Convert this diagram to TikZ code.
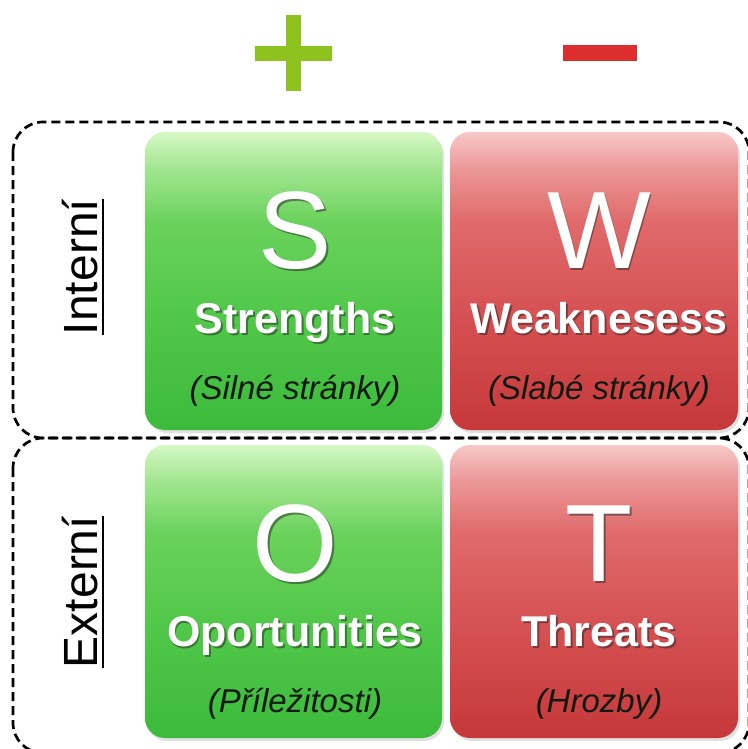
\documentclass[tikz,border=0pt]{standalone}
\usepackage{fontspec}
\setmainfont{Liberation Sans}

% colours
\definecolor{plusgreen}{HTML}{8DC21F}
\definecolor{minusred}{HTML}{DC2E2E}
\definecolor{gA}{HTML}{3CBA3C}
\definecolor{gB}{HTML}{52C84A}
\definecolor{gC}{HTML}{6AD25C}
\definecolor{gD}{HTML}{A2E690}
\definecolor{gE}{HTML}{D6F8C6}
\definecolor{rA}{HTML}{C6383A}
\definecolor{rB}{HTML}{D65254}
\definecolor{rC}{HTML}{E06A6A}
\definecolor{rD}{HTML}{EC9898}
\definecolor{rE}{HTML}{F7C8C8}
\definecolor{subtext}{HTML}{101A10}

% vertical fills of the four cards (bottom stop first)
\pgfdeclareverticalshading{greencard}{100bp}{color(0bp)=(gA); color(25bp)=(gA); color(45bp)=(gB); color(60bp)=(gC); color(69bp)=(gD); color(75bp)=(gE); color(100bp)=(gE)}
\pgfdeclareverticalshading{redcard}{100bp}{color(0bp)=(rA); color(25bp)=(rA); color(45bp)=(rB); color(60bp)=(rC); color(69bp)=(rD); color(75bp)=(rE); color(100bp)=(rE)}

% white lettering with a dark drop shadow
\newcommand\embossed[4]{%
  \node[font=#3, text=black!85, opacity=0.5, anchor=base, xshift=1.8pt, yshift=-2pt] at (#2) {#4};
  \node[font=#3, text=white, anchor=base] (#1) at (#2) {#4};}

\begin{document}
\begin{tikzpicture}[x=1pt, y=-1pt,
  panel/.style={draw=black, line width=2.7pt, dash pattern=on 9pt off 5pt, rounded corners=30pt},
  card/.style={rounded corners=20pt, minimum width=297pt, inner sep=0pt},
  cardshade/.style={rounded corners=20pt, minimum width=297pt, inner sep=0pt, fill=black, opacity=0.12},
  side/.style={font=\fontsize{48}{48}\selectfont, anchor=base, rotate=90, inner sep=0pt},
  sub/.style={font=\fontsize{33}{33}\selectfont\itshape, text=subtext, anchor=base}]

\useasboundingbox (0,0) rectangle (747,749);
\fill[white] (0,0) rectangle (747,749);

% plus and minus signs
\fill[plusgreen] (286,15) rectangle (301,91);
\fill[plusgreen] (255,46) rectangle (332,61);
\fill[minusred] (563,45) rectangle (637,61);

% dashed frames for the internal and external rows
\draw[panel] (13,122) rectangle (749,438);
\draw[panel] (13,438) rectangle (749,753);

% card shadows
\node[cardshade, minimum height=298pt] at (295.5,284) {};
\node[cardshade, minimum width=288pt, minimum height=298pt] at (596,284) {};
\node[cardshade, minimum height=293pt] at (295.5,594.5) {};
\node[cardshade, minimum width=288pt, minimum height=293pt] at (596,594.5) {};

% cards
\node[card, shading=greencard, minimum height=298pt] (Sbox) at (293.5,281) {};
\node[card, shading=redcard, minimum width=288pt, minimum height=298pt] (Wbox) at (594,281) {};
\node[card, shading=greencard, minimum height=293pt] (Obox) at (293.5,591.5) {};
\node[card, shading=redcard, minimum width=288pt, minimum height=293pt] (Tbox) at (594,591.5) {};

% card lettering
\embossed{Sl}{295,268}{\fontsize{110}{110}\selectfont}{S}
\embossed{St}{295,333}{\fontsize{43}{43}\selectfont\bfseries}{Strengths}
\node[sub] (Ss) at (295,399) {(Silné stránky)};

\embossed{Wl}{599,268}{\fontsize{110}{110}\selectfont}{W}
\embossed{Wt}{599,333}{\fontsize{43}{43}\selectfont\bfseries}{Weaknesess}
\node[sub] (Ws) at (599,399) {(Slabé stránky)};

\embossed{Ol}{295,581}{\fontsize{110}{110}\selectfont}{O}
\embossed{Ot}{295,646}{\fontsize{43}{43}\selectfont\bfseries}{Oportunities}
\node[sub] (Os) at (295,712) {(Příležitosti)};

\embossed{Tl}{599,581}{\fontsize{110}{110}\selectfont}{T}
\embossed{Tt}{599,646}{\fontsize{43}{43}\selectfont\bfseries}{Threats}
\node[sub] (Ts) at (599,712) {(Hrozby)};

% row labels, underlined
\node[side] (int) at (97,267) {Interní};
\draw[line width=2.2pt] ([xshift=6pt]int.base west) -- ([xshift=6pt]int.base east);
\node[side] (ext) at (97,592) {Externí};
\draw[line width=2.2pt] ([xshift=6pt]ext.base west) -- ([xshift=6pt]ext.base east);

\end{tikzpicture}
\end{document}
